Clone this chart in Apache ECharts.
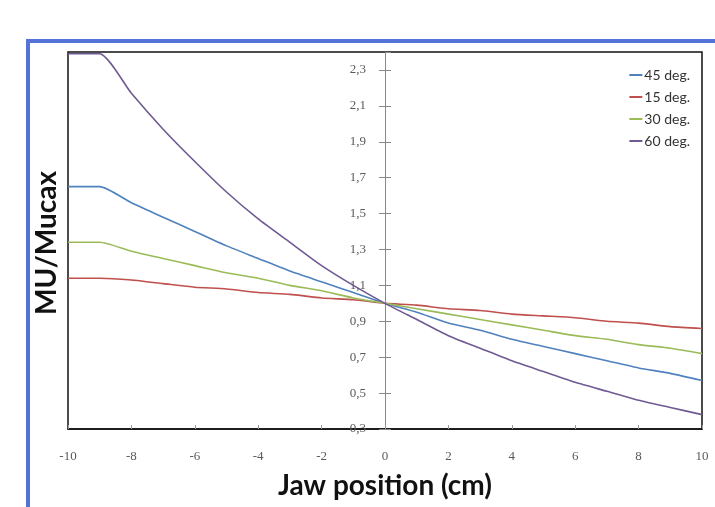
<!DOCTYPE html>
<html>
<head>
<meta charset="utf-8">
<script src="https://cdn.jsdelivr.net/npm/echarts@6/dist/echarts.min.js"></script>
<style>
html,body{margin:0;padding:0;background:#fff;}
#c{width:715px;height:507px;}
</style>
</head>
<body>
<div id="c"></div>
<script>
var xValues = [-10,-9,-8,-7,-6,-5,-4,-3,-2,-1,0,1,2,3,4,5,6,7,8,9,10];
var deg45 = [1.65,1.65,1.56,1.48,1.40,1.32,1.25,1.18,1.12,1.06,1.00,0.95,0.89,0.85,0.80,0.76,0.72,0.68,0.64,0.61,0.57];
var deg15 = [1.14,1.14,1.13,1.11,1.09,1.08,1.06,1.05,1.03,1.02,1.00,0.99,0.97,0.96,0.94,0.93,0.92,0.90,0.89,0.87,0.86];
var deg30 = [1.34,1.34,1.29,1.25,1.21,1.17,1.14,1.10,1.07,1.03,1.00,0.97,0.94,0.91,0.88,0.85,0.82,0.80,0.77,0.75,0.72];
var deg60 = [2.39,2.39,2.17,1.97,1.79,1.62,1.47,1.34,1.21,1.10,1.00,0.91,0.82,0.75,0.68,0.62,0.56,0.51,0.46,0.42,0.38];
var seriesNames = ['45 deg.','15 deg.','30 deg.','60 deg.'];
var seriesColors = ['#4f81bd','#c0504d','#9bbb59','#6f5a93'];
var xTitle = 'Jaw position (cm)';
var yTitle = 'MU/Mucax';

function pairs(ys){ return xValues.map(function(x,i){ return [x, ys[i]]; }); }
var allData = [deg45, deg15, deg30, deg60];

var gridLeft = 68, gridRight = 13, chartW = 715;
// y axis sits at x = 0 of the x range [-10, 10]
var yAxisOffset = -((chartW - gridLeft - gridRight) * (0 - (-10)) / 20);

var chart = echarts.init(document.getElementById('c'), null, {renderer:'canvas'});
var labelFont = {color:'#5a5a5a', fontFamily:'Liberation Serif', fontSize:13};
var yCommon = {type:'value', min:0.3, max:2.4, interval:0.2, position:'left', offset:yAxisOffset, splitLine:{show:false}};
chart.setOption({
  animation:false,
  backgroundColor:'#fff',
  color: seriesColors,
  grid:{left:gridLeft, right:gridRight, top:52, bottom:78, show:true, borderColor:'#111', borderWidth:1.5, containLabel:false},
  legend:{
    orient:'vertical', right:20, top:63, itemGap:8, itemWidth:13, itemHeight:2,
    icon:'rect',
    textStyle:{color:'#333', fontFamily:'Lato', fontSize:14, padding:[0,0,0,-3]},
    data: seriesNames
  },
  xAxis:{
    type:'value', min:-10, max:10, interval:2,
    name:xTitle, nameLocation:'middle', nameGap:43,
    nameTextStyle:{color:'#111', fontFamily:'Lato', fontWeight:'bold', fontSize:28},
    axisLine:{show:true, onZero:false, lineStyle:{color:'#111', width:1.5}},
    axisTick:{show:true, inside:true, length:4, lineStyle:{color:'#999'}},
    axisLabel:{margin:21, color:labelFont.color, fontFamily:labelFont.fontFamily, fontSize:labelFont.fontSize},
    splitLine:{show:false}
  },
  yAxis:[
    Object.assign({}, yCommon, {
      axisLine:{show:true, onZero:false, lineStyle:{color:'#888', width:1}},
      axisTick:{show:true, length:6, lineStyle:{color:'#888'}},
      axisLabel:{margin:19, showMaxLabel:false, color:labelFont.color, fontFamily:labelFont.fontFamily, fontSize:labelFont.fontSize,
        formatter:function(v){ return v.toFixed(1).replace('.', ','); }}
    }),
    Object.assign({}, yCommon, {
      axisLine:{show:false, onZero:false},
      axisTick:{show:true, inside:true, length:6, lineStyle:{color:'#888'}},
      axisLabel:{show:false}
    })
  ],
  graphic:[
    {type:'rect', shape:{x:28, y:41, width:720, height:500}, style:{fill:'none', stroke:'#5472d8', lineWidth:4}, z:-1},
    {type:'text', x:47, y:243, rotation:Math.PI/2,
      style:{text:yTitle, fill:'#111', font:'bold 28px Lato', align:'center', verticalAlign:'middle'}}
  ],
  series: seriesNames.map(function(n,i){
    return {name:n, type:'line', data:pairs(allData[i]), yAxisIndex:0, showSymbol:false, symbol:'none',
      smooth:0.2,
      lineStyle:{width:1.6, color:seriesColors[i]}, itemStyle:{color:seriesColors[i]}, z:2};
  })
});
</script>
</body>
</html>
